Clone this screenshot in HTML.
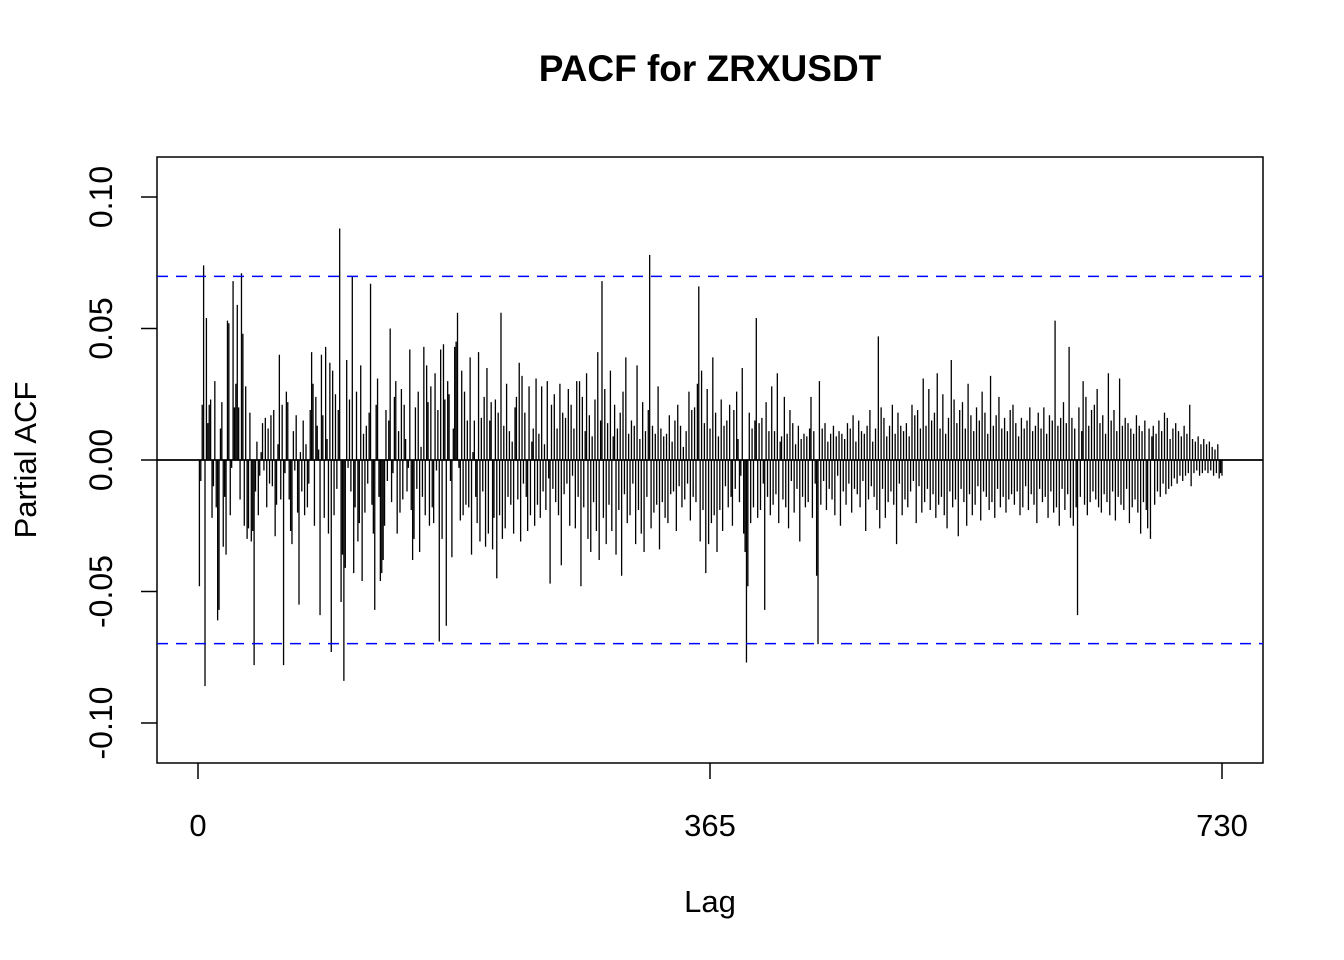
<!DOCTYPE html>
<html><head><meta charset="utf-8"><style>
html,body{margin:0;padding:0;background:#fff;}
svg{display:block;font-family:"Liberation Sans",Arial,sans-serif;}
</style></head><body>
<svg id="chart" width="1344" height="960" viewBox="0 0 1344 960" xmlns="http://www.w3.org/2000/svg">
<text x="710" y="81" font-size="37" font-weight="bold" text-anchor="middle">PACF for ZRXUSDT</text>
<rect x="157" y="157" width="1106" height="606" fill="none" stroke="#000" stroke-width="1.5"/>
<g id="bars"></g>
<g id="axes"></g>
<text x="710" y="912" font-size="31" text-anchor="middle">Lag</text>
<text x="0" y="0" font-size="31" text-anchor="middle" transform="translate(36,460) rotate(-90)">Partial ACF</text>
</svg>
<script>
const xTicks=[0,365,730];
const yTicks=[-0.10,-0.05,0.00,0.05,0.10];
const yTickLabels=["-0.10","-0.05","0.00","0.05","0.10"];
const confBound=0.0698;
const pacf=[
-.048,-.008,.021,.074,-.086,.054,.014,.021,.023,-.022,-.010,.030,-.018,-.061,-.057,.012,.022,-.033,-.014,-.036,
.053,.052,-.021,-.003,.068,.020,.029,.059,.020,-.015,.071,.048,-.025,.028,-.030,-.026,.018,-.031,-.027,-.078,
-.012,.007,-.021,-.006,.003,.014,-.004,.016,-.018,.012,-.009,.017,-.010,.019,-.029,-.017,.006,.040,-.015,.021,
-.078,-.005,.026,.022,-.015,-.027,-.032,.011,-.004,.017,-.020,-.055,.003,-.012,.015,-.021,.006,-.018,-.009,.019,
.041,.029,-.025,.024,.013,.004,-.059,.040,.017,-.022,.043,.008,-.028,.037,-.073,.034,-.021,.025,-.011,.019,
.088,-.054,-.036,-.084,-.041,.038,-.003,.023,-.012,.070,-.043,-.018,.026,-.031,-.024,.036,-.046,.010,-.020,.013,
-.009,.018,.067,-.017,-.028,-.057,.021,.031,-.014,-.046,-.043,-.038,-.025,.019,-.008,.015,.050,-.016,-.005,.024,
.030,-.028,.011,-.020,.027,-.015,.021,.008,-.012,-.003,.042,-.019,-.038,-.030,.020,-.011,.026,-.035,.005,-.014,
.043,-.021,.036,.022,-.025,.028,-.018,-.024,.033,-.004,.019,-.069,.042,-.030,.044,.023,-.063,.030,.025,-.008,
-.037,.012,.043,.045,.056,-.003,-.023,.034,-.021,.026,-.017,.015,-.018,.039,-.036,.003,.015,-.014,-.024,.041,
-.031,.016,-.012,.024,-.033,.035,-.028,.015,.022,-.034,-.022,.023,-.045,.018,-.021,.056,-.030,.013,-.026,.029,
-.014,.011,-.017,.007,-.028,.020,.024,-.015,.037,-.031,.032,-.009,.018,-.014,-.027,.028,-.021,.007,.012,-.025,
.031,-.017,.010,-.022,.028,-.012,.006,-.019,.030,-.007,-.047,.021,-.011,.025,-.016,.012,-.021,.029,-.040,.018,
-.013,.016,-.009,.027,-.025,.021,-.006,.012,-.026,.030,-.014,.030,-.048,.024,-.018,.011,.033,-.030,.017,-.035,
.009,-.016,.023,-.027,.041,-.038,.015,.068,-.022,.027,-.032,.014,-.017,.034,-.027,.009,.021,-.036,.012,-.019,
.018,-.044,.026,-.013,.039,-.024,.010,-.021,.015,-.009,.013,-.032,.036,-.019,.008,-.028,.022,-.035,.011,-.014,
.019,.078,-.026,.013,-.020,.010,-.017,.028,-.034,.012,-.016,.009,-.022,.010,-.024,.017,-.013,.007,-.012,.015,
-.027,.021,-.010,.013,-.018,.005,-.015,.011,-.009,.026,-.023,.019,-.014,.020,-.016,.029,.066,-.031,.034,-.019,
.014,-.043,.027,-.032,.012,-.024,.039,-.021,.018,-.035,.009,-.019,.023,-.027,.013,-.010,.015,-.018,.021,-.014,
-.025,.019,-.011,.026,.008,-.016,-.006,.035,-.028,-.035,-.077,-.048,.018,-.024,.012,-.018,.015,.054,-.022,.014,
-.019,.016,-.009,-.057,.022,-.014,.011,-.021,.028,-.017,.011,-.013,.033,-.024,.007,.009,-.015,.024,-.018,.010,
-.026,.019,-.008,.014,-.020,.006,-.011,.013,-.031,.008,-.014,.010,-.018,.009,-.016,.012,.024,-.022,.011,-.009,
-.044,-.070,.030,-.017,.012,-.008,.014,-.019,.007,-.011,.010,-.015,.013,-.021,.009,-.006,.011,-.025,.010,-.012,
.008,-.017,.014,-.009,.012,-.020,.017,-.011,.007,-.013,.015,-.018,.011,-.008,.010,-.027,.013,-.015,.019,-.010,
.007,-.014,.012,-.019,.047,-.026,.020,-.011,.016,-.022,.009,-.016,.013,-.012,.021,-.017,.010,-.032,.018,-.009,
.013,-.021,.011,-.015,.014,-.018,.009,-.012,.021,-.008,.017,-.024,.019,-.010,.012,-.020,.031,-.016,.013,-.011,
.027,-.019,.015,-.013,.018,-.022,.033,-.017,.012,-.014,.025,-.021,.010,-.026,.016,-.012,.038,-.018,.023,-.015,
.014,-.029,.019,-.011,.022,-.016,.012,-.025,.029,-.013,.017,-.021,.011,-.017,.020,-.010,.015,-.023,.026,-.012,
.018,-.014,.010,-.019,.032,-.016,.013,-.022,.017,-.011,.024,-.018,.012,-.014,.016,-.020,.011,-.015,.019,-.013,
.021,-.017,.014,-.012,.009,-.021,.016,-.018,.012,-.010,.015,-.019,.020,-.013,.011,-.017,.013,-.024,.018,-.011,
.012,-.016,.020,-.014,.010,-.022,.017,-.012,.015,-.020,.053,-.018,.013,-.025,.016,-.011,.022,-.019,.014,-.013,
.043,-.022,.016,-.025,.012,-.018,-.059,.020,-.014,.011,.030,-.017,.024,-.021,.013,-.016,.019,-.012,.021,-.015,
.027,-.018,.014,-.020,.017,-.013,.010,-.016,.033,-.021,.015,-.012,.019,-.023,.011,-.014,.031,-.017,.013,-.019,
.016,-.011,.014,-.024,.012,-.018,.010,-.015,.017,-.020,.013,-.028,.011,-.016,.015,-.019,-.026,.012,-.030,.009,
.013,-.017,.010,-.012,.015,-.014,.011,-.009,.018,-.013,.016,-.011,.008,-.010,.012,-.007,.014,-.009,.011,-.006,
.009,-.008,.013,-.006,.010,-.005,.021,-.010,.008,-.005,.007,-.004,.009,-.006,.006,-.005,.008,-.004,.006,-.005,
.007,-.004,.005,-.006,.004,-.005,.006,-.007,-.005,-.006
];
const NS="http://www.w3.org/2000/svg";
const xS=v=>198+(v-0)*(1222-198)/730;
const yS=v=>460-v*2630;
const bars=document.getElementById('bars');
const axes=document.getElementById('axes');
function mk(tag,attrs,parent){const e=document.createElementNS(NS,tag);for(const k in attrs)e.setAttribute(k,attrs[k]);parent.appendChild(e);return e;}
let d="";
pacf.forEach((v,i)=>{const x=xS(i+1).toFixed(2);d+=`M${x} ${yS(0).toFixed(2)}V${yS(v).toFixed(2)}`;});
const p=mk('path',{d:d,stroke:'#000','stroke-width':1.3,fill:'none'},bars);


const z=mk('line',{x1:157,x2:1263,y1:yS(0),y2:yS(0),stroke:'#000','stroke-width':1.8},axes);


[confBound,-confBound].forEach((c,i)=>{
 const l=mk('line',{x1:157,x2:1263,y1:yS(c),y2:yS(c),stroke:'#0000ff','stroke-width':1.5,'stroke-dasharray':'11 8'},axes);
 
 
});
xTicks.forEach(t=>{
 const x=xS(t);
 const l=mk('line',{x1:x,x2:x,y1:763,y2:779,stroke:'#000','stroke-width':1.5},axes);
 
 
 const tx=mk('text',{x:x,y:836,'font-size':31,'text-anchor':'middle'},axes);
 tx.textContent=String(t);
 
 
});
yTicks.forEach((t,i)=>{
 const y=yS(t);
 const l=mk('line',{x1:141,x2:157,y1:y,y2:y,stroke:'#000','stroke-width':1.5},axes);
 
 
 const tx=mk('text',{x:0,y:0,'font-size':32,'text-anchor':'middle',transform:`translate(112,${y}) rotate(-90)`},axes);
 tx.textContent=yTickLabels[i];
 
 
});
</script>
</body></html>
